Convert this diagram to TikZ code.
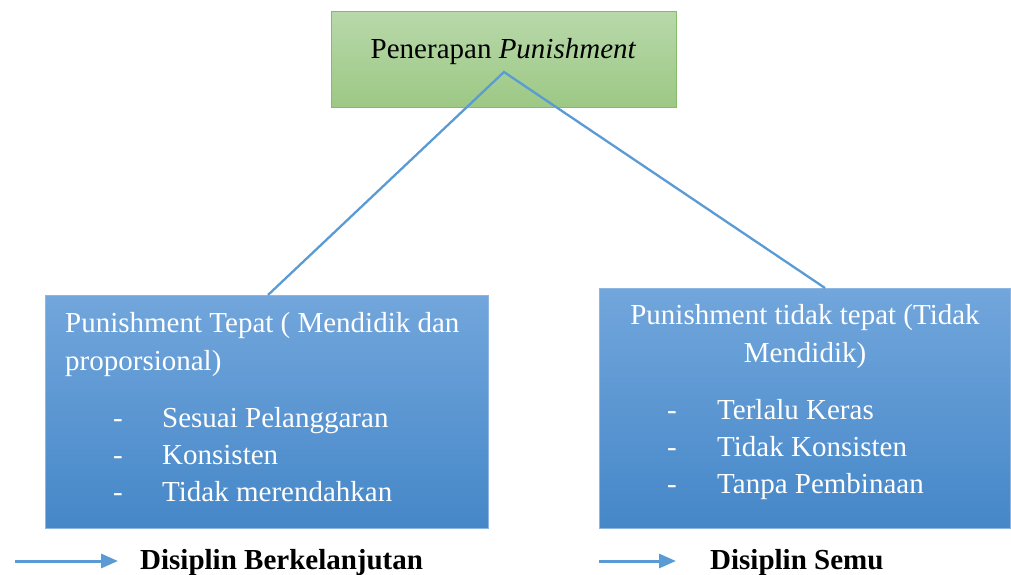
\documentclass[tikz,border=0pt]{standalone}
\usepackage{fontspec}
\setmainfont{Liberation Serif}
\usetikzlibrary{arrows.meta}
\definecolor{lineblue}{HTML}{5B9BD5}
\definecolor{gtop}{HTML}{B8D8AA}
\definecolor{gbot}{HTML}{9CC884}
\definecolor{gedge}{HTML}{86B96A}
\definecolor{btop}{HTML}{72A6DC}
\definecolor{bbot}{HTML}{4587C8}
\definecolor{bedge}{HTML}{8DB6E2}
\tikzset{
  greenbox/.style={draw=gedge, line width=1pt, top color=gtop, bottom color=gbot, anchor=north west, inner sep=0pt},
  bluebox/.style={draw=bedge, line width=1pt, top color=btop, bottom color=bbot, anchor=north west, inner sep=0pt},
  txt/.style={inner sep=0pt, font=\fontsize{29}{37}\selectfont},
  wtxt/.style={txt, text=white},
  conn/.style={draw=lineblue, line width=2.3pt},
  legarrow/.style={draw=lineblue, line width=3pt, -{Triangle[length=17pt,width=14pt]}},
}
\begin{document}
\begin{tikzpicture}[x=1pt,y=-1pt]
\useasboundingbox (0,0) rectangle (1011,574);
% boxes
\node[greenbox, minimum width=345pt, minimum height=96pt] (top) at (331,11) {};
\node[bluebox, minimum width=443pt, minimum height=233pt] (lbox) at (44.5,295) {};
\node[bluebox, minimum width=411pt, minimum height=240pt] (rbox) at (598.5,288) {};
% texts
\node[txt, anchor=base] (toptxt) at (503.5,58) {Penerapan \textit{Punishment}};
\node[wtxt, anchor=base west] (l1) at (65,332) {Punishment Tepat ( Mendidik dan};
\node[wtxt, anchor=base west] (l2) at (65,370) {proporsional)};
\node[wtxt, anchor=base west] (ld1) at (113,427) {-};
\node[wtxt, anchor=base west] (ld2) at (113,464) {-};
\node[wtxt, anchor=base west] (ld3) at (113,501) {-};
\node[wtxt, anchor=base west] (la) at (162,427) {Sesuai Pelanggaran};
\node[wtxt, anchor=base west] (lb) at (162,464) {Konsisten};
\node[wtxt, anchor=base west] (lc) at (162,501) {Tidak merendahkan};
\node[wtxt, anchor=base] (r1) at (805,324) {Punishment tidak tepat (Tidak};
\node[wtxt, anchor=base] (r2) at (805,362) {Mendidik)};
\node[wtxt, anchor=base west] (rd1) at (667,419) {-};
\node[wtxt, anchor=base west] (rd2) at (667,456) {-};
\node[wtxt, anchor=base west] (rd3) at (667,493) {-};
\node[wtxt, anchor=base west] (ra) at (717,419) {Terlalu Keras};
\node[wtxt, anchor=base west] (rb) at (717,456) {Tidak Konsisten};
\node[wtxt, anchor=base west] (rc) at (717,493) {Tanpa Pembinaan};
% connectors
\coordinate (apex) at (504,72);
\coordinate (lend) at (268,295);
\coordinate (rend) at (825,288);
\draw[conn] (lend) -- (apex) -- (rend);
% legend
\coordinate (a1s) at (15,561);
\coordinate (a1e) at (118,561);
\coordinate (a2s) at (599,561);
\coordinate (a2e) at (676,561);
\draw[legarrow] (a1s) -- (a1e);
\draw[legarrow] (a2s) -- (a2e);
\node[txt, anchor=base west, font=\fontsize{29}{37}\selectfont\bfseries] (leg1) at (140,569) {Disiplin Berkelanjutan};
\node[txt, anchor=base west, font=\fontsize{29}{37}\selectfont\bfseries] (leg2) at (710,569) {Disiplin Semu};
\end{tikzpicture}
\end{document}
